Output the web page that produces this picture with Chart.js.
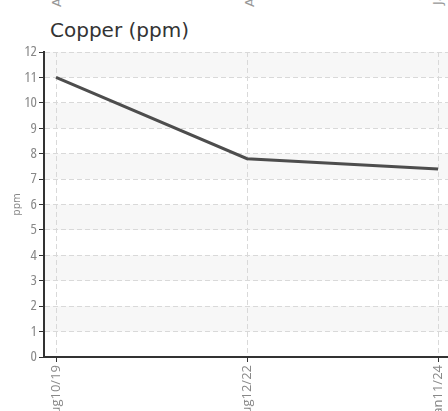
<!DOCTYPE html>
<html>
<head>
<meta charset="utf-8">
<script src="https://cdn.jsdelivr.net/npm/chart.js@4"></script>
<style>
html,body{margin:0;padding:0;width:448px;height:411px;overflow:hidden;background:#fff;}
#wrap{position:relative;width:448px;height:411px;overflow:hidden;}
#title{position:absolute;left:50px;top:18px;margin:0;font:20px "DejaVu Sans",sans-serif;color:#333;white-space:nowrap;font-weight:normal;}
.prev{position:absolute;top:7px;transform-origin:0 0;transform:rotate(-90deg);font:13px "DejaVu Sans",sans-serif;color:#999;line-height:15px;white-space:nowrap;}
canvas{position:absolute;left:0;top:0;}
</style>
</head>
<body>
<div id="wrap">
  <span class="prev" style="left:49px">Aug10/19</span>
  <span class="prev" style="left:242px">Aug12/22</span>
  <span class="prev" style="left:430px;top:5px">Jan11/24</span>
  <h2 id="title">Copper (ppm)</h2>
  <canvas id="c" width="448" height="430"></canvas>
</div>
<script>
const categories = ["Aug10/19", "Aug12/22", "Jan11/24"];
const copperValues = [11, 7.8, 7.4];
const yMin = 0, yMax = 12, yStep = 1;

const tickFont = '"Open Sans", "Liberation Sans", sans-serif';

const bandPlugin = {
  id: 'bands',
  beforeDraw(chart) {
    const {ctx, chartArea, scales} = chart;
    const y = scales.y;
    ctx.save();
    ctx.fillStyle = '#f7f7f7';
    y.ticks.forEach(t => {
      if (t.value % 2 === 1 && t.value < yMax) {
        const top = y.getPixelForValue(t.value + 1);
        const bot = y.getPixelForValue(t.value);
        ctx.fillRect(chartArea.left, top, chartArea.right - chartArea.left, bot - top);
      }
    });
    ctx.restore();
  }
};

new Chart(document.getElementById('c'), {
  type: 'line',
  data: {
    datasets: [{
      label: 'Copper',
      data: copperValues.map((v, i) => ({x: i, y: v})),
      borderColor: '#4d4d4d',
      borderWidth: 3,
      pointRadius: 0,
      tension: 0,
      fill: false
    }]
  },
  options: {
    responsive: false,
    animation: false,
    devicePixelRatio: 1,
    layout: {padding: {top: 52, left: 0, right: 0, bottom: 0}},
    plugins: {legend: {display: false}, tooltip: {enabled: false}, title: {display: false}},
    scales: {
      x: {
        type: 'linear',
        min: -0.063,
        max: 2.052,
        afterBuildTicks(s) { s.ticks = categories.map((_, i) => ({value: i})); },
        ticks: {
          callback: (v) => categories[v],
          minRotation: 90, maxRotation: 90, autoSkip: false,
          color: '#888', font: {family: tickFont, size: 13, weight: '400'}, padding: 3
        },
        grid: {color: '#d9d9d9', lineWidth: 1, tickColor: '#333', tickLength: 5, tickWidth: 1},
        border: {color: '#333', width: 2, dash: [5, 3]},
        afterFit(s) { s.height = 73; s.paddingLeft = 0; s.paddingRight = 0; }
      },
      y: {
        min: yMin, max: yMax,
        ticks: {stepSize: yStep, color: '#888', font: {family: tickFont, size: 15, weight: '400 semi-condensed'}, padding: 2},
        grid: {color: '#d9d9d9', lineWidth: 1, tickColor: '#333', tickLength: 5, tickWidth: 1},
        border: {color: '#333', width: 2, dash: [5, 3]},
        title: {display: true, text: 'ppm', color: '#888', font: {family: '"DejaVu Sans", sans-serif', size: 10}, padding: {top: 11, bottom: 0}},
        afterFit(s) { s.width = 44; s.paddingTop = 0; s.paddingBottom = 0; }
      }
    }
  },
  plugins: [bandPlugin]
});
</script>
</body>
</html>
